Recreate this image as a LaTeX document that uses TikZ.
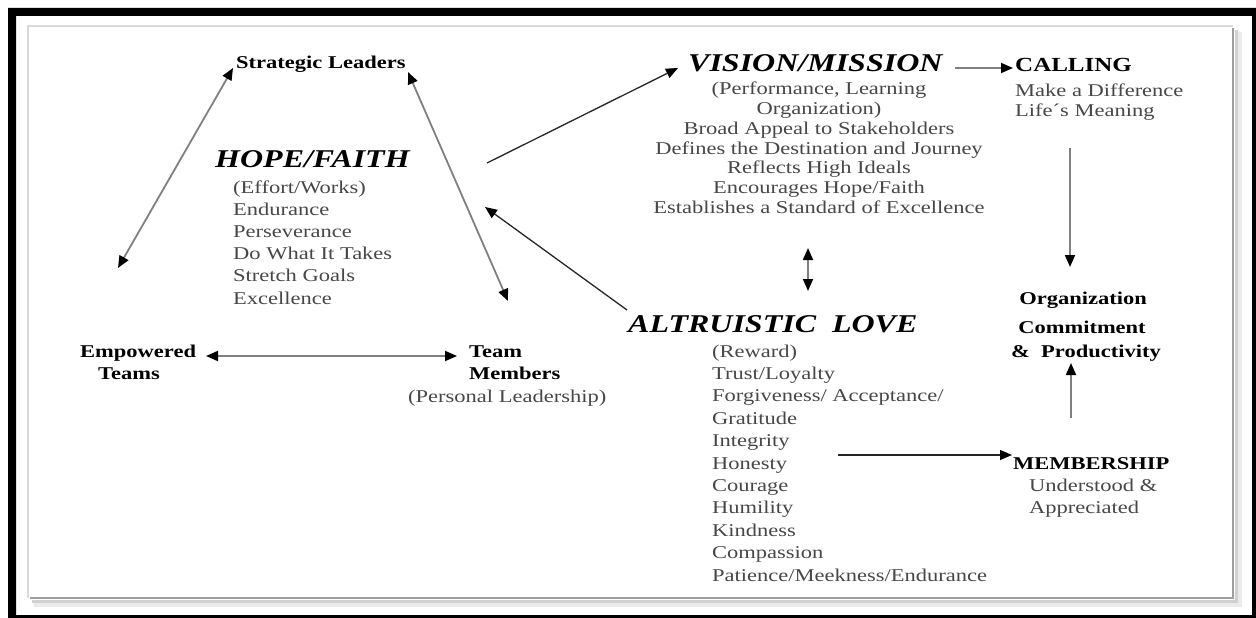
\documentclass[tikz,border=0pt]{standalone}
\usepackage{fontspec}
\setmainfont[FakeStretch=1.25]{Liberation Serif}
\usetikzlibrary{arrows.meta}
\tikzset{
  txt/.style={inner sep=0pt, text=black!72, font=\fontsize{18}{22}\selectfont},
  hdr/.style={inner sep=0pt, text=black, font=\fontsize{18}{22}\selectfont\bfseries},
  hdrbig/.style={inner sep=0pt, text=black, font=\fontsize{20}{24}\selectfont\bfseries},
  big/.style={inner sep=0pt, text=black, font=\fontsize{25.6}{30}\selectfont\bfseries\itshape},
  conn/.style={draw=black!50, line width=1.8pt},
  thinconn/.style={draw=black!85, line width=1.3pt},
  onearr/.style={-{Triangle[length=12pt,width=10pt,color=black]}},
  twoarr/.style={{Triangle[length=12pt,width=10pt,color=black]}-{Triangle[length=12pt,width=10pt,color=black]}}
}
\begin{document}
\begin{tikzpicture}[x=1pt,y=-1pt]
\useasboundingbox (0,0) rectangle (1256,618);
\fill[white] (0,0) rectangle (1256,618);
% outer black frame
\fill[black, even odd rule] (8,8) rectangle (1256,618) (16,16) rectangle (1252,615);
% inner panel with shadow
\draw[black!8, line width=5pt] (1239,32) -- (1239,604) -- (34,604);
\draw[black!18, line width=3pt] (1236,30) -- (1236,601) -- (32,601);
\draw[black!38, line width=2pt] (1233,28) -- (1233,598) -- (30,598);
\draw[black!15, line width=1.2pt] (28,598) -- (28,26) -- (1233,26);

% ---- left part
\node[hdr, anchor=base west] (sl) at (236,69) {Strategic Leaders};
\node[big, anchor=base west] (hope) at (215,167) {HOPE/FAITH};
\foreach \t [count=\i] in {{(Effort/Works)},{Endurance},{Perseverance},{Do What It Takes},{Stretch Goals},{Excellence}}
  \node[txt, anchor=base west] (hope\i) at (233,{193+22.2*(\i-1)}) {\t};
\node[hdr, anchor=base west] (emp) at (80,357) {Empowered};
\node[hdr, anchor=base west] (empb) at (98,379) {Teams};
\node[hdr, anchor=base west] (team) at (469,357) {Team};
\node[hdr, anchor=base west] (teamb) at (469,379) {Members};
\node[txt, anchor=base west] (pers) at (408,402) {(Personal Leadership)};

% ---- vision
\node[big, anchor=base west] (vis) at (688,71) {VISION/MISSION};
\foreach \t [count=\i] in {{(Performance, Learning},{Organization)},{Broad Appeal to Stakeholders},{Defines the Destination and Journey},{Reflects High Ideals},{Encourages Hope/Faith},{Establishes a Standard of Excellence}}
  \node[txt, anchor=base] (vis\i) at (819,{95+19.7*(\i-1)}) {\t};

% ---- calling
\node[hdrbig, anchor=base west] (call) at (1015,72) {CALLING};
\node[txt, anchor=base west] (call1) at (1015,96) {Make a Difference};
\node[txt, anchor=base west] (call2) at (1015,117) {Life´s Meaning};

% ---- organization
\node[hdr, anchor=base] (org1) at (1083,304) {Organization};
\node[hdr, anchor=base] (org2) at (1082,333) {Commitment};
\node[hdr, anchor=base] (org3) at (1086,357) {\&\ \ Productivity};

% ---- altruistic love
\node[big, anchor=base west] (alt) at (628,332) {ALTRUISTIC\ \ LOVE};
\foreach \t [count=\i] in {{(Reward)},{Trust/Loyalty},{Forgiveness/ Acceptance/},{Gratitude},{Integrity},{Honesty},{Courage},{Humility},{Kindness},{Compassion},{Patience/Meekness/Endurance}}
  \node[txt, anchor=base west] (alt\i) at (712,{357+22.4*(\i-1)}) {\t};

% ---- membership
\node[hdr, anchor=base west] (mem) at (1013,469) {MEMBERSHIP};
\node[txt, anchor=base west] (mem1) at (1029,491) {Understood \&};
\node[txt, anchor=base west] (mem2) at (1029,513) {Appreciated};

% ---- connector end points
\coordinate (slL) at (233,68);
\coordinate (empT) at (118,268);
\coordinate (slR) at (408,72);
\coordinate (teamT) at (508,301);
\coordinate (empR) at (206,356);
\coordinate (teamL) at (457,356);
\coordinate (hopeR) at (487,163);
\coordinate (visL) at (678,68);
\coordinate (altL) at (627,310);
\coordinate (hopeRb) at (485,207);
\coordinate (visR) at (955,68);
\coordinate (callL) at (1013,68);
\coordinate (callB) at (1070,148);
\coordinate (orgT) at (1070,267);
\coordinate (memT) at (1071,418);
\coordinate (orgB) at (1071,363);
\coordinate (altR) at (838,455);
\coordinate (memL) at (1012,455);
\coordinate (visB) at (808,248);
\coordinate (altT) at (808,291);

% ---- connectors
\draw[conn, twoarr] (slL) -- (empT);
\draw[conn, twoarr] (slR) -- (teamT);
\draw[conn, twoarr] (empR) -- (teamL);
\draw[thinconn, onearr] (hopeR) -- (visL);
\draw[thinconn, onearr] (altL) -- (hopeRb);
\draw[conn, onearr] (visR) -- (callL);
\draw[conn, onearr] (callB) -- (orgT);
\draw[conn, onearr] (memT) -- (orgB);
\draw[thinconn, onearr] (altR) -- (memL);
\draw[conn, twoarr] (visB) -- (altT);
\end{tikzpicture}
\end{document}
